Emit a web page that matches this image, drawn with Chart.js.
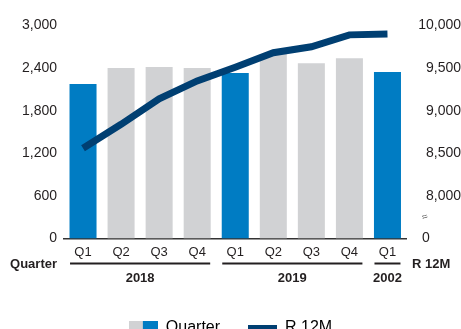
<!DOCTYPE html>
<html>
<head>
<meta charset="utf-8">
<script src="https://cdn.jsdelivr.net/npm/chart.js@4/dist/chart.umd.min.js"></script>
<style>
  html, body { margin: 0; padding: 0; background: #fff; overflow: hidden; }
  #wrap { width: 461px; height: 346px; }
</style>
</head>
<body>
<div id="wrap"><canvas id="chart" width="461" height="346"></canvas></div>
<script>
// chart data
const quarters = ['Q1', 'Q2', 'Q3', 'Q4', 'Q1', 'Q2', 'Q3', 'Q4', 'Q1'];
const yearLabels = ['2018', '2019', '2002'];
const yearSpans = [[0, 3], [4, 7], [8, 8]];
const quarterValues = [2175, 2400, 2415, 2400, 2330, 2600, 2470, 2540, 2345];
const r12mValues = [8560, 8840, 9140, 9350, 9510, 9680, 9750, 9890, 9900];
const leftTicks = [0, 600, 1200, 1800, 2400, 3000];
const rightTicks = [7500, 8000, 8500, 9000, 9500, 10000];

const BLUE = '#007cc3';
const GRAY = '#d1d2d4';
const NAVY = '#003f72';
const TEXT = '#231f20';
const FONT = '"Liberation Sans", Arial, Helvetica, sans-serif';

const fmt = v => v.toLocaleString('en-US');

// legend swatches
function swatchQuarter() {
    const c = document.createElement('canvas');
    c.width = 29; c.height = 14;
    const g = c.getContext('2d');
    g.fillStyle = GRAY; g.fillRect(0, 0, 14, 14);
    g.fillStyle = BLUE; g.fillRect(14, 0, 15, 14);
    return c;
}
function swatchLine() {
    const c = document.createElement('canvas');
    c.width = 29; c.height = 7;
    const g = c.getContext('2d');
    g.fillStyle = NAVY; g.fillRect(0, 0, 29, 7);
    return c;
}

// year groups, axis captions and break mark
const extras = {
    id: 'extras',
    afterDraw(chart) {
        const ctx = chart.ctx;
        const x = chart.scales.x;
        const y1 = chart.scales.y1;
        const base = chart.chartArea.bottom;
        ctx.save();
        ctx.fillStyle = TEXT;
        ctx.strokeStyle = TEXT;
        ctx.textBaseline = 'middle';

        ctx.font = 'bold 13px ' + FONT;
        ctx.textAlign = 'right';
        ctx.fillText('Quarter', 57, base + 26);
        ctx.textAlign = 'left';
        ctx.fillText('R 12M', 412, base + 26);

        ctx.lineWidth = 2;
        ctx.textAlign = 'center';
        yearSpans.forEach((s, i) => {
            const a = x.getPixelForValue(s[0]) - 13;
            const b = x.getPixelForValue(s[1]) + 13;
            ctx.beginPath();
            ctx.moveTo(a, base + 25);
            ctx.lineTo(b, base + 25);
            ctx.stroke();
            ctx.fillText(yearLabels[i], (a + b) / 2, base + 40);
        });

        // axis break on the right scale
        const by = y1.getPixelForValue(7750);
        ctx.translate(425, by);
        ctx.rotate(-0.35);
        ctx.font = '10px ' + FONT;
        ctx.fillStyle = '#555';
        ctx.fillText('\u2248', 0, 0);
        ctx.restore();
    }
};

new Chart(document.getElementById('chart'), {
    type: 'bar',
    data: {
        labels: quarters,
        datasets: [{
            label: 'Quarter',
            data: quarterValues,
            backgroundColor: quarters.map(q => q === 'Q1' ? BLUE : GRAY),
            barPercentage: 0.71,
            categoryPercentage: 1,
            yAxisID: 'y',
            order: 1
        }, {
            type: 'line',
            label: 'R 12M',
            data: r12mValues,
            borderColor: NAVY,
            borderWidth: 7,
            pointRadius: 0,
            tension: 0,
            yAxisID: 'y1',
            order: 0
        }]
    },
    options: {
        responsive: false,
        animation: false,
        devicePixelRatio: 1,
        layout: { padding: { top: 25.5, left: 0, right: 0, bottom: 0 } },
        plugins: {
            tooltip: { enabled: false },
            legend: {
                position: 'bottom',
                labels: {
                    usePointStyle: true,
                    pointStyleWidth: 29,
                    padding: 28,
                    color: TEXT,
                    font: { family: FONT, size: 16 },
                    generateLabels: () => [
                        { text: 'Quarter', pointStyle: swatchQuarter(), fillStyle: BLUE, strokeStyle: BLUE, lineWidth: 0, datasetIndex: 0 },
                        { text: 'R 12M', pointStyle: swatchLine(), fillStyle: NAVY, strokeStyle: NAVY, lineWidth: 0, datasetIndex: 1 }
                    ]
                }
            }
        },
        scales: {
            x: {
                grid: { display: false, drawTicks: false },
                border: { display: true, color: '#333', width: 1.5 },
                ticks: { color: TEXT, font: { family: FONT, size: 13 }, padding: 6.5, maxRotation: 0 },
                afterFit: s => { s.height = 53.5; }
            },
            y: {
                position: 'left',
                min: 0, max: 3000,
                grid: { display: false, drawTicks: false },
                border: { display: false },
                afterBuildTicks: s => { s.ticks = leftTicks.map(v => ({ value: v })); },
                ticks: { color: TEXT, font: { family: FONT, size: 14 }, padding: 7, callback: v => fmt(v) },
                afterFit: s => { s.width = 64; }
            },
            y1: {
                position: 'right',
                min: 7500, max: 10000,
                grid: { display: false, drawTicks: false },
                border: { display: false },
                afterBuildTicks: s => { s.ticks = rightTicks.map(v => ({ value: v })); },
                ticks: {
                    color: TEXT, font: { family: FONT, size: 14 }, padding: 7, crossAlign: 'far',
                    callback: v => v === 7500 ? '0\u2007\u2007\u2007\u2007' : fmt(v)
                },
                afterFit: s => { s.width = 54.5; }
            }
        }
    },
    plugins: [extras]
});
</script>
</body>
</html>
